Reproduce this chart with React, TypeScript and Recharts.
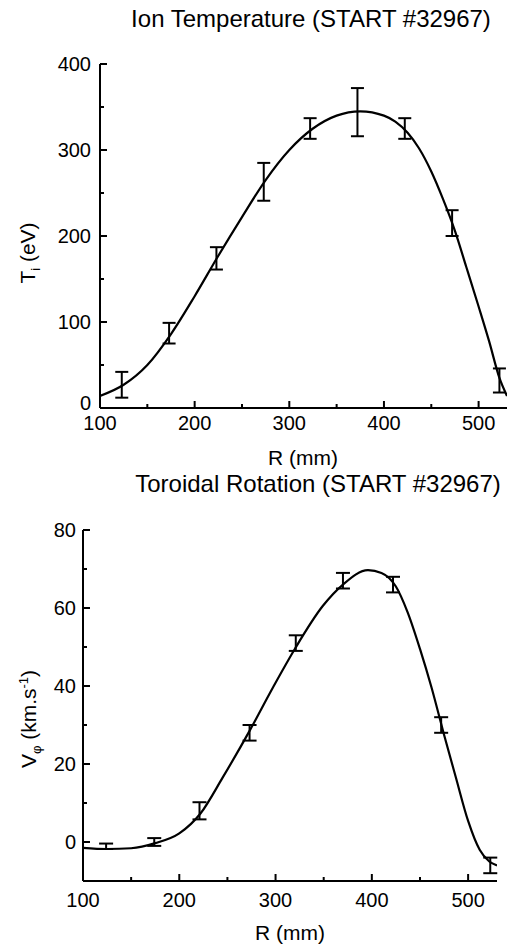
import { ComposedChart, Line, Scatter, ErrorBar, XAxis, YAxis } from "recharts";

const FONT = '"Liberation Sans", Arial, Helvetica, sans-serif';

// Ion temperature: measured points (R in mm, Ti in eV) and error bars
const TI_R = [123, 173, 223, 273, 322, 372, 422, 472, 522];
const TI_VAL = [27, 87, 174, 263, 325, 344, 325, 215, 32];
const TI_ERR = [15, 12, 13, 22, 12, 28, 12, 15, 14];
// fitted Ti profile
const TI_FIT_R = [100, 125, 150, 175, 200, 225, 250, 275, 300, 325, 350, 375, 400, 412, 425, 437, 450, 462, 475, 487, 500, 511, 522, 530];
const TI_FIT = [14, 27, 50, 86, 130, 177, 222, 265, 300, 325, 340, 345, 340, 333, 320, 302, 275, 244, 206, 164, 118, 78, 35, 14];

// Toroidal rotation: measured points (R in mm, V in km/s)
const VP_R = [124, 174, 221, 273, 321, 370, 422, 472, 523];
const VP_VAL = [-1.1, 0, 8, 28, 51, 67, 66, 30, -6];
const VP_ERR = [0.7, 1, 2.2, 2, 2, 2, 2, 2, 2];
// fitted V profile
const VP_FIT_R = [100, 125, 150, 175, 200, 222, 245, 273, 297, 320, 349, 370, 396, 410, 425, 437, 450, 462, 475, 487, 500, 512, 522, 530];
const VP_FIT = [-1.5, -1.8, -1.6, -0.3, 2.2, 7.3, 16.5, 28.5, 39.5, 49.5, 60.5, 66, 69.7, 69, 65.5, 59, 49.5, 39.6, 27.5, 16.8, 5.4, -2, -5, -6];

const X_TICKS = [100, 150, 200, 250, 300, 350, 400, 450, 500];
const TI_TICKS = [0, 50, 100, 150, 200, 250, 300, 350, 400];
const VP_TICKS = [0, 10, 20, 30, 40, 50, 60, 70, 80];

const pts = (r: number[], v: number[], e: number[]) =>
  r.map((x, i) => ({ x, y: v[i], err: e[i] }));
const line = (r: number[], v: number[]) => r.map((x, i) => ({ x, y: v[i] }));

const xTick = (dy: number) => (p: any) => {
  const { x, y, payload } = p;
  const major = payload.value % 100 === 0;
  return (
    <g>
      <line x1={x} x2={x} y1={y} y2={y - (major ? 7 : 4)} stroke="#000" strokeWidth={2} />
      {major && (
        <text x={x} y={y + dy} textAnchor="middle" fontSize={20} fontFamily={FONT} fill="#000">
          {payload.value}
        </text>
      )}
    </g>
  );
};

const yTick = (step: number, gap: number, zeroLift: number) => (p: any) => {
  const { x, y, payload } = p;
  const major = payload.value % step === 0;
  const lift = payload.value === 0 ? zeroLift : 0;
  return (
    <g>
      <line x1={x} x2={x + (major ? 7 : 4)} y1={y} y2={y} stroke="#000" strokeWidth={2} />
      {major && (
        <text x={x - gap} y={y - lift} dy="0.36em" textAnchor="end" fontSize={20} fontFamily={FONT} fill="#000">
          {payload.value}
        </text>
      )}
    </g>
  );
};

const axisLine = { stroke: "#000", strokeWidth: 2 };

function Panel(props: {
  top: number;
  height: number;
  margin: { top: number; right: number; bottom: number; left: number };
  yWidth: number;
  yDomain: [number, number];
  yTicks: number[];
  yStep: number;
  yGap: number;
  zeroLift: number;
  xDy: number;
  cap: number;
  points: { x: number; y: number; err: number }[];
  fit: { x: number; y: number }[];
}) {
  return (
    <div style={{ position: "absolute", left: 0, top: props.top }}>
      <ComposedChart width={508} height={props.height} margin={props.margin}>
        <XAxis
          type="number"
          dataKey="x"
          domain={[100, 530]}
          ticks={X_TICKS}
          interval={0}
          allowDataOverflow
          height={30}
          tickLine={false}
          tickSize={0}
          tickMargin={0}
          axisLine={axisLine}
          tick={xTick(props.xDy)}
        />
        <YAxis
          type="number"
          domain={props.yDomain}
          ticks={props.yTicks}
          interval={0}
          allowDataOverflow
          width={props.yWidth}
          tickLine={false}
          tickSize={0}
          tickMargin={0}
          axisLine={axisLine}
          tick={yTick(props.yStep, props.yGap, props.zeroLift)}
        />
        <Line
          data={props.fit}
          dataKey="y"
          type="monotone"
          dot={false}
          stroke="#000"
          strokeWidth={2.2}
          isAnimationActive={false}
        />
        <Scatter
          data={props.points}
          dataKey="y"
          shape={() => <g />}
          isAnimationActive={false}
        >
          <ErrorBar
            dataKey="err"
            direction="y"
            width={props.cap}
            stroke="#000"
            strokeWidth={2}
            isAnimationActive={false}
          />
        </Scatter>
      </ComposedChart>
    </div>
  );
}

export default function App() {
  const txt = { fontFamily: FONT, fill: "#000" };
  return (
    <div
      style={{
        position: "absolute",
        left: 0,
        top: 0,
        width: 508,
        height: 948,
        background: "#fff",
        overflow: "hidden",
      }}
    >
      <Panel
        top={0}
        height={470}
        margin={{ top: 64, right: 1, bottom: 32, left: 0 }}
        yWidth={100}
        yDomain={[0, 400]}
        yTicks={TI_TICKS}
        yStep={100}
        yGap={9}
        zeroLift={5}
        xDy={22}
        cap={6.5}
        points={pts(TI_R, TI_VAL, TI_ERR)}
        fit={line(TI_FIT_R, TI_FIT)}
      />
      <Panel
        top={470}
        height={478}
        margin={{ top: 60, right: 11, bottom: 37, left: 0 }}
        yWidth={83}
        yDomain={[-10, 80]}
        yTicks={VP_TICKS}
        yStep={20}
        yGap={7}
        zeroLift={0}
        xDy={26}
        cap={7}
        points={pts(VP_R, VP_VAL, VP_ERR)}
        fit={line(VP_FIT_R, VP_FIT)}
      />
      <svg
        width={508}
        height={948}
        style={{ position: "absolute", left: 0, top: 0, pointerEvents: "none" }}
      >
        <text x={311} y={27} textAnchor="middle" fontSize={24} {...txt}>
          Ion Temperature (START #32967)
        </text>
        <text x={303} y={465} textAnchor="middle" fontSize={21} {...txt}>
          R (mm)
        </text>
        <text transform="translate(35,253) rotate(-90)" textAnchor="middle" fontSize={21} {...txt}>
          T
          <tspan dy={5} fontSize={13}>i</tspan>
          <tspan dy={-5}> (eV)</tspan>
        </text>

        <text x={318} y={492} textAnchor="middle" fontSize={24} {...txt}>
          Toroidal Rotation (START #32967)
        </text>
        <text x={290} y={940} textAnchor="middle" fontSize={21} {...txt}>
          R (mm)
        </text>
        <text transform="translate(36,719) rotate(-90)" textAnchor="middle" fontSize={21} {...txt}>
          V
          <tspan dy={5} fontSize={13}>φ</tspan>
          <tspan dy={-5}> (km.s</tspan>
          <tspan dy={-8} fontSize={13}>-1</tspan>
          <tspan dy={8}>)</tspan>
        </text>
      </svg>
    </div>
  );
}
